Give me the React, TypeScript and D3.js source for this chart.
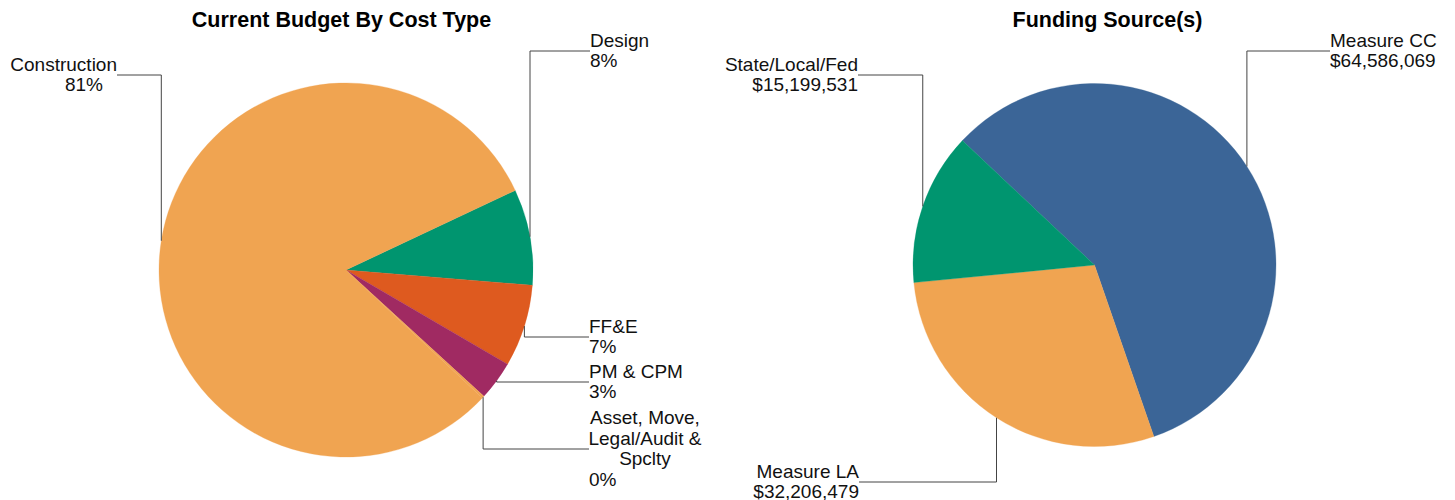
import React from "react";
import * as d3 from "d3";

// ---- Data ----
const costCategories = ["Design", "FF&E", "PM & CPM", "Asset, Move, Legal/Audit & Spclty", "Construction"];
const costValues = [8.3, 7.1, 3.4, 0.2, 81.0];
const costColors = ["#00956F", "#DE5A1F", "#A02A62", "#F0A451", "#F0A451"];

const fundingCategories = ["Measure CC", "Measure LA", "State/Local/Fed"];
const fundingValues = [64586069, 32206479, 15199531];
const fundingColors = ["#3B6597", "#F0A451", "#00956F"];

// ---- Layout ----
const FONT = "Arial, 'Liberation Sans', Helvetica, sans-serif";
const LABEL_SIZE = 19;
const LINE_H = 20.6;

type LabelLayout = {
  nameLines: string[];
  lineY: number;
  lineEndX: number;
  nameX: number;
  nameAnchor: "start" | "middle" | "end";
  valueX: number;
  valueAnchor: "start" | "middle" | "end";
};

const costLayout: LabelLayout[] = [
  { nameLines: ["Design"], lineY: 51, lineEndX: 590, nameX: 590, nameAnchor: "start", valueX: 590, valueAnchor: "start" },
  { nameLines: ["FF&E"], lineY: 337, lineEndX: 589, nameX: 589, nameAnchor: "start", valueX: 589, valueAnchor: "start" },
  { nameLines: ["PM & CPM"], lineY: 382, lineEndX: 589, nameX: 589, nameAnchor: "start", valueX: 589, valueAnchor: "start" },
  { nameLines: ["Asset, Move,", "Legal/Audit &", "Spclty"], lineY: 449, lineEndX: 589, nameX: 645, nameAnchor: "middle", valueX: 589, valueAnchor: "start" },
  { nameLines: ["Construction"], lineY: 75, lineEndX: 117, nameX: 117, nameAnchor: "end", valueX: 103, valueAnchor: "end" },
];

const fundingLayout: LabelLayout[] = [
  { nameLines: ["Measure CC"], lineY: 51, lineEndX: 1330, nameX: 1330, nameAnchor: "start", valueX: 1330, valueAnchor: "start" },
  { nameLines: ["Measure LA"], lineY: 482, lineEndX: 859, nameX: 859, nameAnchor: "end", valueX: 859, valueAnchor: "end" },
  { nameLines: ["State/Local/Fed"], lineY: 75, lineEndX: 858, nameX: 858, nameAnchor: "end", valueX: 858, valueAnchor: "end" },
];

const deg = Math.PI / 180;

function PieChart(props: {
  cx: number; cy: number; r: number; startDeg: number;
  values: number[]; colors: string[]; layout: LabelLayout[];
  valueText: (v: number, total: number) => string;
  title: string; titleX: number;
}) {
  const { cx, cy, r, startDeg, values, colors, layout, valueText, title, titleX } = props;
  const total = d3.sum(values);
  const pie = d3.pie<number>().sort(null).value((d) => d)
    .startAngle(startDeg * deg).endAngle(startDeg * deg + 2 * Math.PI);
  const arcs = pie(values);
  const arcGen = d3.arc<d3.PieArcDatum<number>>().innerRadius(0).outerRadius(r);
  return (
    <g>
      <text x={titleX} y={27} textAnchor="middle" fontFamily={FONT} fontWeight="bold" fontSize={21.5} fill="#000">{title}</text>
      <g transform={`translate(${cx},${cy})`}>
        {arcs.map((a, i) => (
          <path key={i} d={arcGen(a) || ""} fill={colors[i]} stroke={colors[i]} strokeWidth={0.3} />
        ))}
      </g>
      {arcs.map((a, i) => {
        const L = layout[i];
        const mid = (a.startAngle + a.endAngle) / 2;
        const ex = cx + r * Math.sin(mid);
        const ey = cy - r * Math.cos(mid);
        const n = L.nameLines.length + 1;
        const base = (k: number) => L.lineY + (k - (n - 1) / 2) * LINE_H + 6;
        return (
          <g key={"l" + i}>
            <path d={`M${ex},${ey}V${L.lineY}H${L.lineEndX}`} fill="none" stroke="#444" strokeWidth={1} />
            {L.nameLines.map((t, k) => (
              <text key={k} x={L.nameX} y={base(k)} textAnchor={L.nameAnchor} fontFamily={FONT} fontSize={LABEL_SIZE} fill="#111">{t}</text>
            ))}
            <text x={L.valueX} y={base(n - 1)} textAnchor={L.valueAnchor} fontFamily={FONT} fontSize={LABEL_SIZE} fill="#111">
              {valueText(values[i], total)}
            </text>
          </g>
        );
      })}
    </g>
  );
}

export default function App() {
  const pct = (v: number, t: number) => `${Math.round((v / t) * 100)}%`;
  const money = (v: number) => d3.format("$,.0f")(v);
  return (
    <svg width={1455} height={500} style={{ position: "absolute", left: 0, top: 0, background: "#fff" }}>
      <PieChart cx={346} cy={270} r={187} startDeg={64.8} values={costValues} colors={costColors}
        layout={costLayout} valueText={pct} title="Current Budget By Cost Type" titleX={341.5} />
      <PieChart cx={1094.5} cy={265} r={181.5} startDeg={-46.7} values={fundingValues} colors={fundingColors}
        layout={fundingLayout} valueText={(v) => money(v)} title="Funding Source(s)" titleX={1107.5} />
    </svg>
  );
}
